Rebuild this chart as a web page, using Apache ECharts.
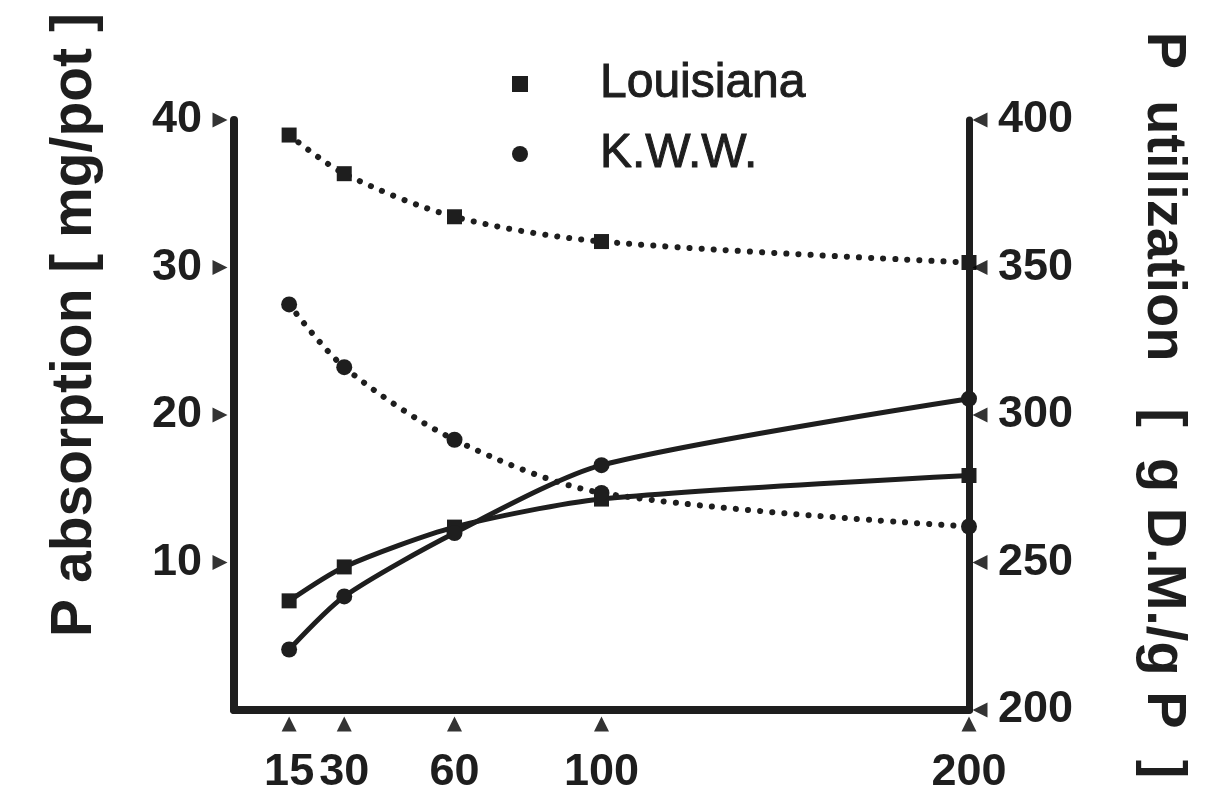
<!DOCTYPE html>
<html>
<head>
<meta charset="utf-8">
<title>P absorption / P utilization</title>
<script src="https://cdn.jsdelivr.net/npm/echarts@6.0.0/dist/echarts.min.js"></script>
<style>
  html, body { margin: 0; padding: 0; background: #ffffff; }
  #chart { width: 1205px; height: 795px; }
</style>
</head>
<body>
<div id="chart"></div>
<script>
  // P level (x)
  const pLevels = [15, 30, 60, 100, 200];
  // P absorption, mg/pot (left axis, solid lines)
  const absLouisiana = [7.4, 9.7, 12.4, 14.3, 15.9];
  const absKWW = [4.1, 7.7, 12.0, 16.6, 21.1];
  // P utilization, g D.M./g P (right axis, dotted lines)
  const utilLouisiana = [394.9, 381.8, 367.2, 358.8, 351.7];
  const utilKWW = [337.5, 316.2, 291.6, 273.6, 262.2];

  const leftTicks = [10, 20, 30, 40];
  const rightTicks = [200, 250, 300, 350, 400];

  const ink = "#1e1e1e";
  const tickFont = '"Liberation Sans Narrow", "Liberation Sans", Arial, sans-serif';

  function pairs(xs, ys) {
    return xs.map(function (x, i) { return [x, ys[i]]; });
  }

  let myChart = echarts.init(document.getElementById("chart"));

  const solidLine = { color: ink, width: 5 };
  const dottedLine = { color: ink, width: 6, type: [0.1, 12], cap: "round" };
  const tickLabel = {
    fontFamily: tickFont,
    fontWeight: "bold",
    fontSize: 45,
    color: ink,
    hideOverlap: false,
  };

  myChart.setOption({
    animation: false,
    backgroundColor: "#ffffff",
    grid: { left: 234, right: 236, top: 120, bottom: 83 },
    legend: {
      orient: "vertical",
      left: 507,
      top: 54,
      itemWidth: 16,
      itemHeight: 16,
      itemGap: 20,
      selectedMode: false,
      data: [
        { name: "Louisiana", icon: "rect" },
        { name: "K.W.W.", icon: "circle" },
      ],
      textStyle: {
        fontFamily: '"Liberation Sans", Arial, sans-serif',
        fontSize: 48,
        lineHeight: 50,
        color: ink,
        textBorderColor: ink,
        textBorderWidth: 1,
        padding: [0, 0, 0, 67],
      },
    },
    xAxis: {
      type: "value",
      min: 0,
      max: 200,
      splitLine: { show: false },
      axisTick: { show: false },
      axisLine: { onZero: false, lineStyle: { color: ink, width: 8 } },
      axisLabel: Object.assign({ customValues: pLevels, margin: 40 }, tickLabel),
    },
    yAxis: [
      {
        type: "value",
        min: 0,
        max: 40,
        interval: 10,
        splitLine: { show: false },
        axisTick: { show: false },
        axisLine: { show: true, lineStyle: { color: ink, width: 8 } },
        axisLabel: Object.assign({ customValues: leftTicks, margin: 32 }, tickLabel),
      },
      {
        type: "value",
        min: 200,
        max: 400,
        interval: 50,
        position: "right",
        splitLine: { show: false },
        axisTick: { show: false },
        axisLine: { show: true, lineStyle: { color: ink, width: 7 } },
        axisLabel: Object.assign({ margin: 29 }, tickLabel),
      },
    ],
    graphic: [
      {
        type: "text",
        x: 75,
        y: 325,
        rotation: Math.PI / 2,
        style: {
          text: "P absorption [ mg/pot ]",
          font: 'bold 57px "Liberation Sans", Arial, sans-serif',
          fill: ink,
          textAlign: "center",
          textVerticalAlign: "middle",
        },
      },
      {
        type: "text",
        x: 1163,
        y: 405,
        rotation: -Math.PI / 2,
        style: {
          text: "P  utilization   [  g D.M./g P  ]",
          font: 'bold 56px "Liberation Sans", Arial, sans-serif',
          fill: ink,
          textAlign: "center",
          textVerticalAlign: "middle",
        },
      },
    ],
    series: [
      {
        name: "Louisiana",
        type: "line",
        yAxisIndex: 0,
        smooth: 0.25,
        symbol: "rect",
        symbolSize: 15,
        itemStyle: { color: ink },
        lineStyle: solidLine,
        data: pairs(pLevels, absLouisiana),
        z: 3,
      },
      {
        name: "K.W.W.",
        type: "line",
        yAxisIndex: 0,
        smooth: 0.25,
        symbol: "circle",
        symbolSize: 16,
        itemStyle: { color: ink },
        lineStyle: solidLine,
        data: pairs(pLevels, absKWW),
        z: 3,
      },
      {
        name: "Louisiana",
        type: "line",
        yAxisIndex: 1,
        smooth: 0.3,
        symbol: "rect",
        symbolSize: 15,
        itemStyle: { color: ink },
        lineStyle: dottedLine,
        data: pairs(pLevels, utilLouisiana),
        z: 3,
      },
      {
        name: "K.W.W.",
        type: "line",
        yAxisIndex: 1,
        smooth: 0.3,
        symbol: "circle",
        symbolSize: 16,
        itemStyle: { color: ink },
        lineStyle: dottedLine,
        data: pairs(pLevels, utilKWW),
        z: 3,
      },
      // little triangle tick marks beside the axes
      {
        type: "scatter",
        yAxisIndex: 0,
        silent: true,
        clip: false,
        symbol: "triangle",
        symbolSize: 15,
        symbolRotate: -90,
        symbolOffset: [-14, 0],
        itemStyle: { color: "#000000" },
        data: leftTicks.map(function (v) { return [0, v]; }),
        z: 4,
      },
      {
        type: "scatter",
        yAxisIndex: 1,
        silent: true,
        clip: false,
        symbol: "triangle",
        symbolSize: 15,
        symbolRotate: 90,
        symbolOffset: [11, 0],
        itemStyle: { color: "#000000" },
        data: rightTicks.map(function (v) { return [200, v]; }),
        z: 4,
      },
      {
        type: "scatter",
        yAxisIndex: 0,
        silent: true,
        clip: false,
        symbol: "triangle",
        symbolSize: 15,
        symbolOffset: [0, 14],
        itemStyle: { color: "#000000" },
        data: pLevels.map(function (v) { return [v, 0]; }),
        z: 4,
      },
    ],
  });
</script>
</body>
</html>
